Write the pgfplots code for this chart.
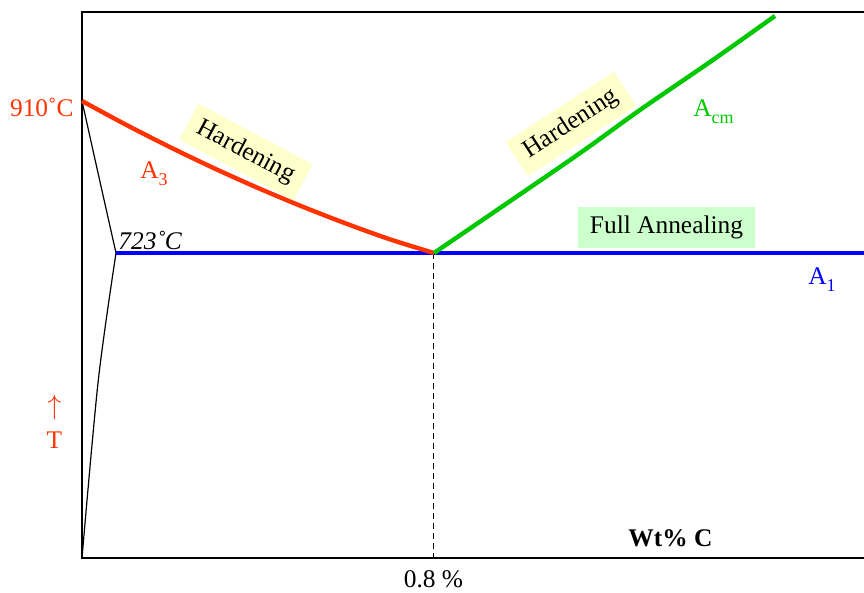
\documentclass[border=0pt]{standalone}
\usepackage{pgfplots}
\pgfplotsset{compat=1.18}
\usepackage{fontspec}
\setmainfont{Liberation Serif}
\definecolor{redA}{RGB}{255,51,0}
\definecolor{greenA}{RGB}{0,200,0}
\definecolor{blueA}{RGB}{0,0,255}
\definecolor{yellowbox}{RGB}{255,255,204}
\definecolor{greenbox}{RGB}{204,255,204}
\newcommand{\sub}[1]{\raisebox{-3.5pt}{\fontsize{9}{10}\selectfont #1}}
\begin{document}
\fontsize{12.7}{15}\selectfont
\begin{tikzpicture}
\useasboundingbox (0,0) rectangle (432pt,296.5pt);
\begin{axis}[at={(41pt,17.5pt)}, anchor=south west, scale only axis,
  width=391pt, height=273pt,
  xmin=0, xmax=1.7773, ymin=347.8, ymax=1019.5,
  hide axis, clip=false]
\draw[line width=0.6pt] (rel axis cs:1,1) -- (rel axis cs:0,1) -- (rel axis cs:0,0) -- (rel axis cs:1,0);
\addplot[black, line width=0.5pt, dash pattern=on 3pt off 2pt] coordinates {(0.8,723) (0.8,347.8)};
\addplot[black, line width=0.6pt, smooth] coordinates {(0,910) (0.040,812.8) (0.0773,723)};
\addplot[black, line width=0.6pt, smooth] coordinates {(0.0773,723) (0.0371,566.8) (0,347.8)};
\addplot[blueA, line width=2pt] coordinates {(0.0773,723) (1.7773,723)};
\addplot[redA, line width=2.2pt, smooth] coordinates {(0,910) (0.1,880.8) (0.2,853.25) (0.3,827.3) (0.4,803.0) (0.5,780.3) (0.6,759.25) (0.7,739.8) (0.8,723)};
\addplot[greenA, line width=2.2pt, smooth] coordinates {(0.8,723) (1.116,839.9) (1.268,898.9) (1.434,960.5) (1.575,1014.6)};
\end{axis}
\node[anchor=base east, text=redA, inner sep=0pt] at (37pt,238pt) {910˚C};
\node[anchor=base west, inner sep=0pt] at (59pt,171.5pt) {\textit{723˚C}};
\node[anchor=base west, text=redA, inner sep=0pt] at (70pt,207pt) {A\sub{3}};
\node[anchor=base west, text=greenA, inner sep=0pt] at (346.5pt,238pt) {A\sub{cm}};
\node[anchor=base west, text=blueA, inner sep=0pt] at (404pt,154pt) {A\sub{1}};
\node[fill=yellowbox, rotate=-28, inner xsep=5.5pt, inner ysep=4.3pt, text height=9pt, text depth=2.8pt] at (123pt,220.5pt) {Hardening};
\node[fill=yellowbox, rotate=33, inner xsep=5.5pt, inner ysep=4.3pt, text height=9pt, text depth=2.8pt] at (285.5pt,234.5pt) {Hardening};
\node[fill=greenbox, inner xsep=6pt, inner ysep=4.3pt, text height=9pt, text depth=2.8pt] at (333.25pt,182.75pt) {Full Annealing};
\node[text=redA, inner sep=0pt, scale=1.15] at (27.25pt,92.5pt) {$\uparrow$};
\node[anchor=base, text=redA, inner sep=0pt] at (27.25pt,72pt) {T};
\node[anchor=base west, inner sep=0pt] at (314pt,23pt) {\textbf{Wt\% C}};
\node[anchor=base, inner sep=0pt] at (216.75pt,2.5pt) {0.8 \%};
\end{tikzpicture}
\end{document}
